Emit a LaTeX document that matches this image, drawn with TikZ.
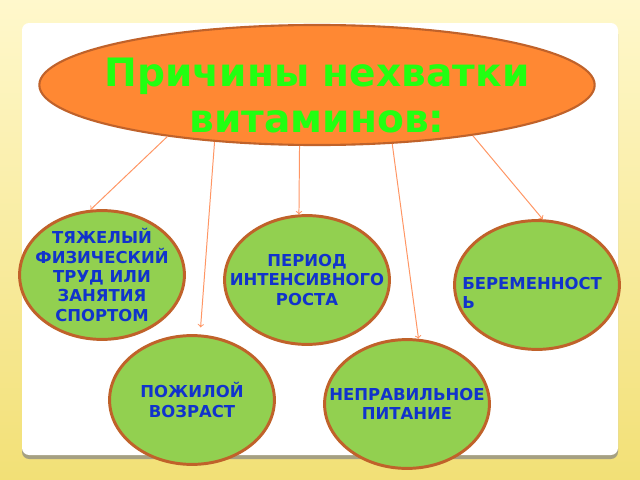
\documentclass[tikz,border=0pt]{standalone}
\usepackage{fontspec}
\setmainfont{DejaVu Sans}
\usetikzlibrary{shapes.geometric,positioning}
\definecolor{bgtop}{RGB}{255,248,204}
\definecolor{bgbot}{RGB}{242,224,118}
\definecolor{peel}{RGB}{255,136,51}
\definecolor{rim}{RGB}{192,98,42}
\definecolor{leaf}{RGB}{146,208,80}
\definecolor{ink}{RGB}{17,51,204}
\definecolor{titlegreen}{RGB}{34,255,17}
\definecolor{wire}{RGB}{255,150,100}
\definecolor{panelshade}{RGB}{165,160,130}

\begin{document}
\begin{tikzpicture}[x=0.025cm, y=-0.025cm,
    cause/.style={ellipse, draw=rim, line width=2.1pt, fill=leaf, minimum width=4.12cm, minimum height=3.22cm, inner sep=-1cm, align=center, text=ink, font=\fontsize{11.7}{13.7}\selectfont\bfseries},
    link/.style={->, draw=wire, line width=0.7pt}]
    \useasboundingbox (0,0) rectangle (640,480);
    % background and white panel
    \shade[top color=bgtop, bottom color=bgbot] (0,0) rectangle (640,480);
    \fill[panelshade, rounded corners=5pt] (22,27) rectangle (618,459);
    \fill[white, rounded corners=5pt] (22,23) rectangle (618,455);

    \node[ellipse, draw=rim, line width=1.5pt, fill=peel, minimum width=13.88cm, minimum height=3cm, inner sep=-1cm, align=center, text=titlegreen, font=\fontsize{27.8}{32.7}\selectfont\bfseries] at (317,85) (title) {\rule{0pt}{35pt}Причины нехватки\\витаминов:};

    \node[cause] at (102,275) (sport) {ТЯЖЕЛЫЙ\\ФИЗИЧЕСКИЙ\\ТРУД ИЛИ\\ЗАНЯТИЯ\\СПОРТОМ};
    \node[cause] at (307,280) (growth) {ПЕРИОД\\ИНТЕНСИВНОГО\\РОСТА};
    \node[cause, align=left] at (537,285) (baby) {\rule{0pt}{19.5pt}БЕРЕМЕННОСТ\hspace*{7pt}\\Ь};
    \node[cause] at (192,400) (age) {ПОЖИЛОЙ\\ВОЗРАСТ};
    \node[cause] at (407,404) (food) {НЕПРАВИЛЬНОЕ\\ПИТАНИЕ};

    \draw[link] (title.199) -- (sport.100);
    \draw[link, shorten >=5pt] (title.209) -- (age.83);
    \draw[link] (title.254) -- (growth.97);
    \draw[link] (title.322) -- (food.80);
    \draw[link] (title.342) -- (baby.85);
\end{tikzpicture}
\end{document}
